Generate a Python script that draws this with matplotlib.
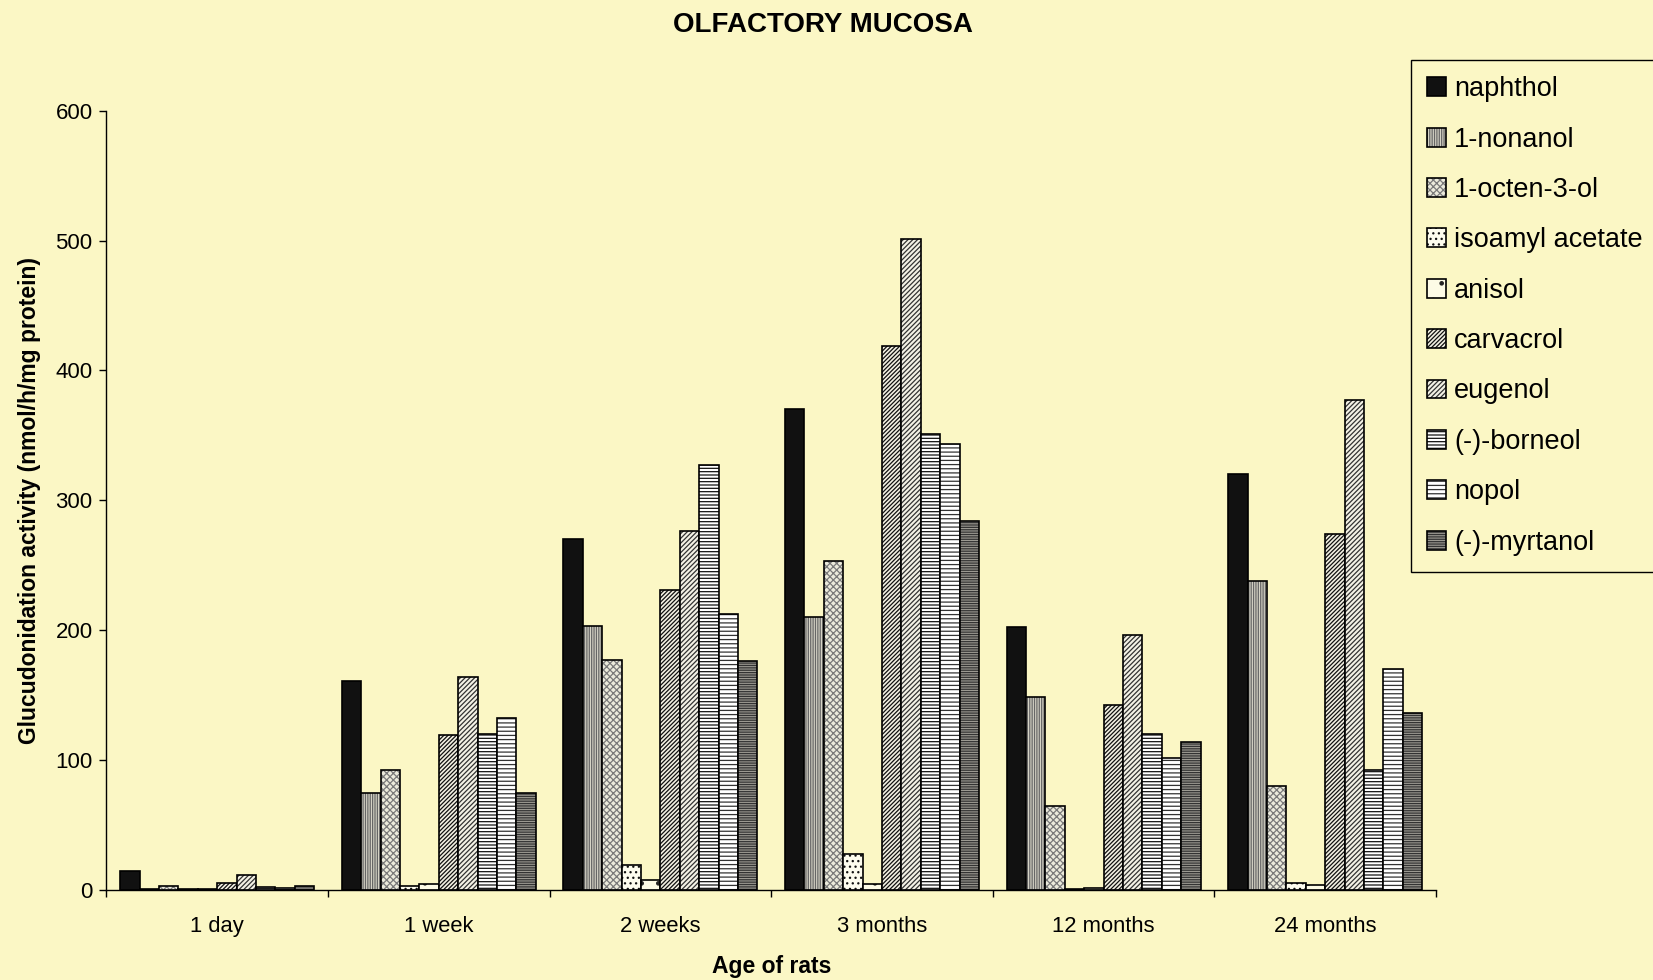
import numpy as np
import matplotlib.pyplot as plt
from matplotlib.patches import Patch

plt.rcParams['font.family'] = ['Liberation Sans', 'DejaVu Sans']
plt.rcParams['hatch.linewidth'] = 0.9

# ages (x categories)
ages = ['1 day', '1 week', '2 weeks', '3 months', '12 months', '24 months']

# glucuronidation activity per odorant, nmol/h/mg protein
naphthol = [14, 161, 270, 370, 202, 320]
nonanol = [0.5, 74, 203, 210, 148, 238]
octenol = [3, 92, 177, 253, 64, 80]
isoamyl_acetate = [0.5, 2.5, 19, 27, 0.5, 5]
anisol = [0.5, 4, 7, 4.5, 1.5, 3.5]
carvacrol = [5, 119, 231, 419, 142, 274]
eugenol = [11, 164, 276, 501, 196, 377]
borneol = [2, 120, 327, 351, 120, 92]
nopol = [1.5, 132, 212, 343, 101, 170]
myrtanol = [3, 74, 176, 284, 114, 136]

series = [naphthol, nonanol, octenol, isoamyl_acetate, anisol,
          carvacrol, eugenol, borneol, nopol, myrtanol]
names = ['naphthol', '1-nonanol', '1-octen-3-ol', 'isoamyl acetate', 'anisol',
         'carvacrol', 'eugenol', '(-)-borneol', 'nopol', '(-)-myrtanol']

bg = '#fbf7c5'
faces = ['#111111', '#d6d4c6', '#ecebdc', '#fdfcee', '#fdfbe6',
         '#f2f0e2', '#f4f2e6', '#ffffff', '#ffffff', '#9c9a92']
hatches = ['', '|||||||', 'xxxxx', '...', '.', '////////', '///////',
           '-----', '----', '-------']
hcolors = ['#111111', '#666666', '#7a7a7a', '#111111', '#222222',
           '#111111', '#333333', '#111111', '#333333', '#333333']

fig = plt.figure(figsize=(16.53, 9.8), dpi=100, facecolor=bg)
ax = fig.add_axes([0.0644, 0.0923, 0.8043, 0.7947], facecolor=bg)

x = np.arange(len(ages))
w = 0.0876
handles = []
for i, vals in enumerate(series):
    off = (i - 4.5) * w
    # hatched fill, then a black outline on top
    ax.bar(x + off, vals, width=w, color=faces[i], edgecolor=hcolors[i],
           hatch=hatches[i], linewidth=0)
    ax.bar(x + off, vals, width=w, fill=False, edgecolor='black', linewidth=1.2)
    handles.append((Patch(facecolor=faces[i], edgecolor=hcolors[i], hatch=hatches[i], linewidth=0),
                    Patch(fill=False, edgecolor='black', linewidth=1.2)))

ax.set_xlim(-0.5, 5.5)
ax.set_ylim(0, 600)
ax.set_yticks(range(0, 601, 100))
ax.set_xticks(x)
ax.set_xticklabels(ages)
ax.set_xticks(np.arange(-0.5, 5.6, 1), minor=True)
ax.tick_params(axis='x', which='major', length=0, pad=19, labelsize=15.8)
ax.tick_params(axis='x', which='minor', length=5, width=1, direction='out')
ax.tick_params(axis='y', length=5, width=1, direction='out', pad=5, labelsize=16)
for s in ['top', 'right']:
    ax.spines[s].set_visible(False)
for s in ['left', 'bottom']:
    ax.spines[s].set_linewidth(1)

fig.text(823 / 1653, 1 - 25 / 980, 'OLFACTORY MUCOSA', fontsize=20,
         fontweight='bold', ha='center', va='center')
fig.text(772 / 1653, 1 - 966 / 980, 'Age of rats', fontsize=16.5,
         fontweight='bold', ha='center', va='center')
fig.text(30 / 1653, 1 - 500 / 980, 'Glucudonidation activity (nmol/h/mg protein)',
         fontsize=16.5, fontweight='bold', rotation=90, ha='center', va='center')

leg = fig.legend(handles, names, loc='upper left',
                 bbox_to_anchor=(1411 / 1653, 1 - 60 / 980),
                 fontsize=19.5, frameon=True, fancybox=False, edgecolor='black',
                 facecolor=bg, framealpha=1, labelspacing=0.9, handlelength=0.7,
                 handleheight=0.7, handletextpad=0.3, borderpad=0.6,
                 borderaxespad=0)
leg.get_frame().set_linewidth(1)

fig.savefig('out.png', dpi=100, facecolor=bg)
